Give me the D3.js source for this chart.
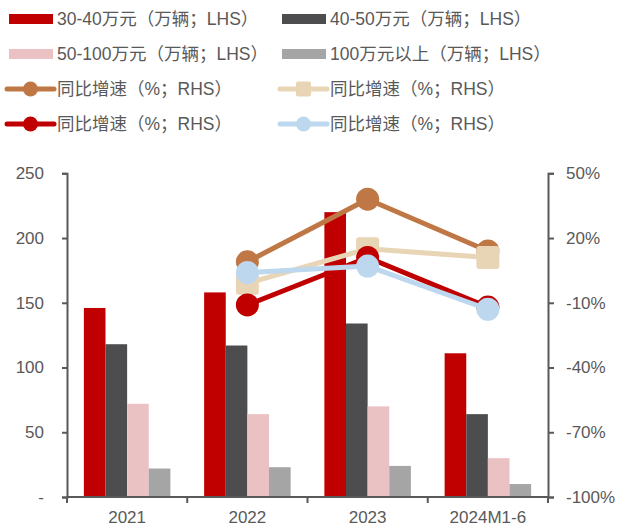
<!DOCTYPE html>
<html>
<head>
<meta charset="utf-8">
<script src="https://cdn.jsdelivr.net/npm/d3@7/dist/d3.min.js"></script>
<style>
  html, body { margin: 0; padding: 0; background: #fff; }
  svg { display: block; font-family: "Liberation Sans", Arial, "Noto Sans CJK SC", sans-serif; }
</style>
</head>
<body>
<svg id="chart" width="617" height="527"></svg>
<script>
// Categories and bar series (万辆, left axis)
const categories = ["2021", "2022", "2023", "2024M1-6"];
const barNames = ["30-40万元（万辆；LHS）", "40-50万元（万辆；LHS）", "50-100万元（万辆；LHS）", "100万元以上（万辆；LHS）"];
const barColors = ["#C00000", "#4D4D4F", "#EBC2C3", "#A5A5A5"];
const bars3040 = [146, 158, 220, 111];
const bars4050 = [118, 117, 134, 64];
const bars50100 = [72, 64, 70, 30];
const bars100plus = [22, 23, 24, 10];

// Growth-rate series (%, right axis), from 2022 onward
const lineCategories = ["2022", "2023", "2024M1-6"];
const lineNames = ["同比增速（%；RHS）", "同比增速（%；RHS）", "同比增速（%；RHS）", "同比增速（%；RHS）"];
const lineColors = ["#BF7845", "#E8D5B5", "#C00000", "#BDD7EE"];
const lineMarkers = ["circle", "square", "circle", "circle"];
const growth3040 = [9, 38, 14];
const growth4050 = [-1, 15, 11];
const growth50100 = [-11, 11, -12];
const growth100plus = [4, 7, -13];

// Axis ticks
const leftTicks = [0, 50, 100, 150, 200, 250];
const leftTickLabels = ["-", "50", "100", "150", "200", "250"];
const rightTicks = [-100, -70, -40, -10, 20, 50];
const rightTickLabels = ["-100%", "-70%", "-40%", "-10%", "20%", "50%"];

const barSeries = [bars3040, bars4050, bars50100, bars100plus];
const lineSeries = [growth3040, growth4050, growth50100, growth100plus];

const svg = d3.select("#chart");
const textColor = "#595959";
const axisColor = "#595959";
const fontSize = "17px";

const plot = { left: 67, right: 548, top: 173.3, bottom: 497 };

const x = d3.scaleBand().domain(categories).range([plot.left, plot.right]).paddingInner(0).paddingOuter(0);
const xs = d3.scaleBand().domain(d3.range(barSeries.length)).range([0, x.bandwidth()]).paddingInner(0).paddingOuter(0.78);
const yL = d3.scaleLinear().domain([0, 250]).range([plot.bottom, plot.top]);
const yR = d3.scaleLinear().domain([-100, 50]).range([plot.bottom, plot.top]);

// Bars
barSeries.forEach((vals, si) => {
  svg.append("g").selectAll("rect")
    .data(vals)
    .join("rect")
    .attr("x", (d, i) => x(categories[i]) + xs(si))
    .attr("y", d => yL(d))
    .attr("width", xs.bandwidth())
    .attr("height", d => yL(0) - yL(d))
    .attr("fill", barColors[si]);
});

// Axes
function styleAxis(g) {
  g.selectAll("path.domain").attr("stroke", axisColor).attr("stroke-width", 2);
  g.selectAll(".tick line").attr("stroke", axisColor).attr("stroke-width", 2);
  g.selectAll(".tick text").attr("fill", textColor).style("font-size", fontSize)
    .style("font-family", "'Liberation Sans', Arial, sans-serif");
}

const axL = svg.append("g").attr("transform", `translate(${plot.left},0)`)
  .call(d3.axisLeft(yL).tickValues(leftTicks).tickSize(5).tickSizeOuter(5).tickPadding(18)
    .tickFormat((d, i) => leftTickLabels[i]));
styleAxis(axL);

const axR = svg.append("g").attr("transform", `translate(${plot.right},0)`)
  .call(d3.axisRight(yR).tickValues(rightTicks).tickSize(6).tickSizeOuter(6).tickPadding(12)
    .tickFormat((d, i) => rightTickLabels[i]));
styleAxis(axR);

// Category axis with ticks on band boundaries
const axB = svg.append("g").attr("transform", `translate(0,${plot.bottom})`);
axB.append("line").attr("x1", plot.left).attr("x2", plot.right)
  .attr("stroke", axisColor).attr("stroke-width", 2);
const boundaries = categories.map(c => x(c)).concat([plot.right]);
axB.selectAll("line.tk").data(boundaries).join("line").attr("class", "tk")
  .attr("x1", d => d).attr("x2", d => d).attr("y1", 0).attr("y2", 6)
  .attr("stroke", axisColor).attr("stroke-width", 2);
axB.selectAll("text").data(categories).join("text")
  .attr("x", d => x(d) + x.bandwidth() / 2).attr("y", 26)
  .attr("text-anchor", "middle").attr("fill", textColor).style("font-size", fontSize)
  .text(d => d);

// Growth lines
const line = d3.line().x((d, i) => x(lineCategories[i]) + x.bandwidth() / 2).y(d => yR(d));
lineSeries.forEach((vals, si) => {
  const g = svg.append("g");
  g.append("path").datum(vals).attr("d", line)
    .attr("fill", "none").attr("stroke", lineColors[si]).attr("stroke-width", 5)
    .attr("stroke-linejoin", "round");
  vals.forEach((v, i) => {
    const cx = x(lineCategories[i]) + x.bandwidth() / 2, cy = yR(v);
    if (lineMarkers[si] === "square") {
      g.append("rect").attr("x", cx - 11.5).attr("y", cy - 11.5).attr("width", 23).attr("height", 23)
        .attr("rx", 3).attr("fill", lineColors[si]);
    } else {
      g.append("circle").attr("cx", cx).attr("cy", cy).attr("r", 11.5).attr("fill", lineColors[si]);
    }
  });
});

// Legend
const legend = svg.append("g").style("font-size", "17.5px");
const colX = [9, 282];
const rowY = [19, 54, 89, 124];
barNames.forEach((name, i) => {
  const lx = colX[i % 2], ly = rowY[Math.floor(i / 2)];
  legend.append("rect").attr("x", lx).attr("y", ly - 5).attr("width", 44).attr("height", 10).attr("fill", barColors[i]);
  legend.append("text").attr("x", lx + 48).attr("y", ly).attr("dy", "0.35em").attr("fill", textColor).text(name);
});
lineNames.forEach((name, i) => {
  const lx = colX[i % 2] - 2, ly = rowY[2 + Math.floor(i / 2)];
  legend.append("line").attr("x1", lx).attr("x2", lx + 47).attr("y1", ly).attr("y2", ly)
    .attr("stroke", lineColors[i]).attr("stroke-width", 5).attr("stroke-linecap", "round");
  if (lineMarkers[i] === "square") {
    legend.append("rect").attr("x", lx + 23.5 - 7.5).attr("y", ly - 7.5).attr("width", 15).attr("height", 15)
      .attr("rx", 2).attr("fill", lineColors[i]);
  } else {
    legend.append("circle").attr("cx", lx + 23.5).attr("cy", ly).attr("r", 7.5).attr("fill", lineColors[i]);
  }
  legend.append("text").attr("x", lx + 50).attr("y", ly).attr("dy", "0.35em").attr("fill", textColor).text(name);
});
</script>
</body>
</html>
